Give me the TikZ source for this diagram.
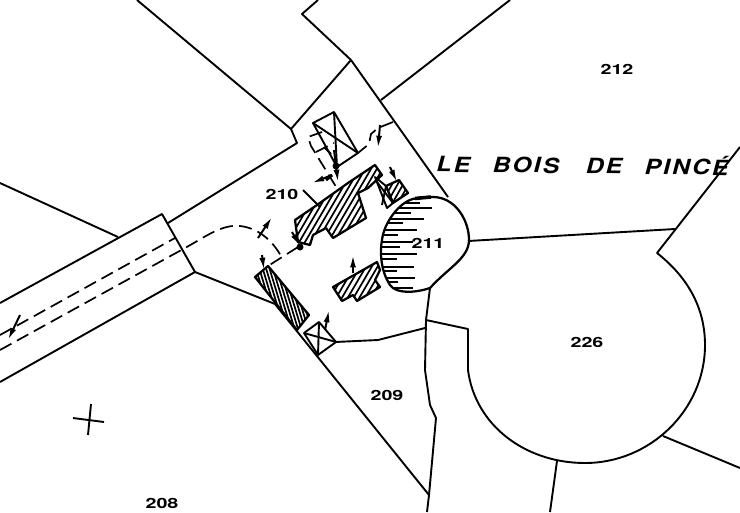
\documentclass[tikz,border=0pt]{standalone}
\usepackage{fontspec}
\setmainfont{TeX Gyre Heros}
\usetikzlibrary{arrows.meta}
\tikzset{
	lot/.style={line width=0.38mm, line join=round},
	track/.style={line width=0.34mm, dash pattern=on 7.4pt off 3.6pt},
	hatchline/.style={line width=0.34mm},
	parcel/.style={font=\bfseries\footnotesize, inner sep=0pt, xscale=1.4},
	sign/.style={line width=0.4mm, -{Latex[length=7pt,width=3.4pt]}}
}
% #1 = spacing of the hatching, #2 = its horizontal run over the height of the picture, #3 = outline
\def\hatchblock#1#2#3{
	\begin{scope}
		\clip #3;
		\foreach \n in {0,...,400} {
			\draw[hatchline] (-400+\n*#1, 0) -- (-400+\n*#1+#2, 512);
		}
	\end{scope}
	\draw[line width=0.45mm, line join=round] #3;
}
\begin{document}
\begin{tikzpicture}[x=0.02cm, y=-0.02cm]
		%%%%% START %%%%%
		\useasboundingbox (0, 0) rectangle (740, 512);
		
		% lots
		\draw[lot] (137, 0) -- (291, 129) -- (351, 60) -- (302, 14) -- (318, 0);
		\draw[lot] (351, 60) -- (448, 197);
		\draw[lot] (381, 100) -- (510, 0);
		\draw[lot] (291, 129) -- (297, 143) -- (168, 223);
		\draw[lot] (0, 183) -- (118, 237);
		\draw[lot] (0, 303) -- (162, 214) -- (195, 272) -- (0, 382);
		\draw[lot] (195, 272) -- (275, 304) -- (429, 495) -- (436, 418) -- (430, 405) -- (425, 370) -- (426, 320) -- (430, 288);
		\draw[lot] (429, 495) -- (427, 512);
		\draw[lot] (335, 342) -- (378, 340) -- (425, 328);
		\draw[lot] (426, 320) -- (468, 329) -- (468, 370) .. controls (475, 425) and (525, 463) .. (585, 463) .. controls (650, 463) and (705, 410) .. (705, 345) .. controls (705, 305) and (685, 275) .. (657, 253) -- (740, 147);
		\draw[lot] (468, 241) -- (675, 229);
		\draw[lot] (663, 436) -- (740, 468);
		\draw[lot] (557, 461) -- (550, 512);
		
		% mound
		\begin{scope}
			\clip (433, 197) .. controls (455, 197) and (469, 220) .. (469, 240) .. controls (469, 258) and (448, 268) .. (430, 288) .. controls (415, 293) and (396, 294) .. (390, 285) .. controls (380, 270) and (380, 250) .. (382, 240) .. controls (384, 222) and (400, 202) .. (413, 199) .. controls (420, 197) and (426, 197) .. (433, 197);
			\foreach \y/\x in {203/420, 208/432, 213/411, 219/424, 223/403, 230/417, 235/398, 242/413, 247/400, 254/417, 259/397, 267/414, 271/397, 278/415, 282/398, 288/413} {
				\draw[lot] (370, \y) -- (\x, \y);
			}
		\end{scope}
		\draw[line width=0.45mm] (433, 197) .. controls (455, 197) and (469, 220) .. (469, 240) .. controls (469, 258) and (448, 268) .. (430, 288) .. controls (415, 293) and (396, 294) .. (390, 285) .. controls (380, 270) and (380, 250) .. (382, 240) .. controls (384, 222) and (400, 202) .. (413, 199) .. controls (420, 197) and (426, 197) .. (433, 197);
		\draw[line width=0.7mm] (415, 198.5) -- (431, 197);
		
		% buildings
		\hatchblock{5.8}{-300}{(375, 165) -- (382, 175) -- (368, 188) -- (358, 193) -- (366, 218) -- (333, 238) -- (326, 228) -- (313, 235) -- (310, 245) -- (298, 242) -- (295, 220) -- (317, 205) -- (348, 183) -- cycle}
		\hatchblock{5.5}{-290}{(393, 203) -- (408, 193) -- (399, 180) -- (386, 186) -- cycle}
		\hatchblock{5.8}{-300}{(333, 287) -- (377, 262) -- (380, 270) -- (375, 280) -- (380, 287) -- (357, 301) -- (353, 295) -- (342, 301) -- cycle}
		\hatchblock{3.4}{155}{(255, 277) -- (268, 266) -- (309, 315) -- (297, 330) -- cycle}
		
		% crossed boxes
		\draw[lot] (313, 123) -- (334, 112) -- (358, 153) -- (337, 167) -- cycle;
		\draw[lot] (313, 123) -- (358, 153);
		\draw[lot] (334, 112) -- (337, 167);
		\draw[lot] (304, 333) -- (319, 322) -- (336, 342) -- (318, 355) -- cycle;
		\draw[lot] (304, 333) -- (336, 342);
		\draw[lot] (319, 322) -- (318, 355);
		\draw[lot] (375, 177) -- (387, 208) -- (393, 203) -- (386, 186) -- cycle;
		\draw[lot] (377, 182) -- (393, 203);
		\draw[lot] (386, 186) -- (382, 205);
		
		% dashes
		\draw[track] (0, 335) -- (175, 238);
		\draw[track] (0, 350) -- (185, 248) .. controls (205, 237) and (222, 224) .. (240, 226) .. controls (258, 228) and (272, 240) .. (281, 256);
		\draw[track] (298, 247) -- (268, 266);
		\draw[track] (393, 122) -- (378, 128) -- (371, 134) -- (369, 144) -- (358, 153);
		\draw[track] (322, 132) -- (308, 137) -- (311, 146) -- (338, 190);
		\draw[track] (316, 152) -- (334, 143);
		
		% signs
		\draw[sign] (334, 150) -- (338, 182);
		\draw[sign] (332, 175) -- (312, 183);
		\draw[sign] (380, 125) -- (378, 148);
		\draw[sign] (390, 167) -- (397, 182);
		\draw[sign] (258, 238) -- (272, 217);
		\draw[sign] (292, 232) -- (300, 246);
		\draw[sign] (262, 255) -- (264, 270);
		\draw[sign] (353, 273) -- (353, 255);
		\draw[sign] (325, 330) -- (329, 310);
		\draw[sign] (20, 315) -- (8, 340);
		\draw[line width=0.6mm] (326, 180) -- (332, 175);
		\draw[lot] (324, 147) -- (331, 154);
		\fill (336, 166) circle (3.5);
		\fill (300, 247) circle (3.5);
		\draw[lot] (303, 190) -- (320, 207);
		
		% survey cross
		\draw[lot] (73, 418) -- (104, 422);
		\draw[lot] (91, 404) -- (88, 435);
		
		% labels
		\node[parcel] (lab212) at (617, 69) {212};
		\node[parcel] (lab210) at (282, 194) {210};
		\node[parcel] (lab211) at (428, 243) {211};
		\node[parcel] (lab226) at (587, 342) {226};
		\node[parcel] (lab209) at (387, 395) {209};
		\node[parcel] (lab208) at (162, 503) {208};
		\node[font=\bfseries\itshape\large, inner sep=0pt, rotate=-0.7, xscale=1.17] (wood) at (582.5, 164) {L\kern1pt E\hspace{11pt}B\kern1pt O\kern1pt I\kern1pt S\hspace{13pt}D\kern1pt E\hspace{11pt}P\kern1pt I\kern1pt N\kern1pt C\kern1pt É};
		%%%%% END %%%%%
	\end{tikzpicture}
\end{document}
